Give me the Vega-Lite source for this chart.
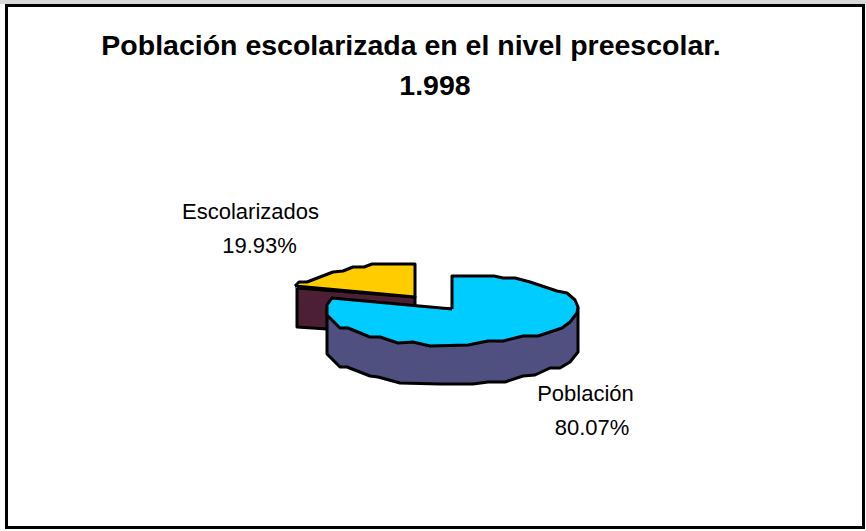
{"$schema":"https://vega.github.io/schema/vega-lite/v6.json","width":866,"height":531,"padding":0,"autosize":{"type":"fit","contains":"padding"},"background":"white","view":{"stroke":null},
"datasets":{
"franja":[{"x":0,"x2":866,"y":0,"y2":4}],
"marco":[{"x":6.5,"x2":863.5,"y":5.5,"y2":527.5}],
"pie":[
{"parte":"lado Escolarizados","i":0,"x":297,"y":288},{"parte":"lado Escolarizados","i":1,"x":415,"y":297},{"parte":"lado Escolarizados","i":2,"x":415,"y":305},{"parte":"lado Escolarizados","i":3,"x":380,"y":312},{"parte":"lado Escolarizados","i":4,"x":330,"y":322},{"parte":"lado Escolarizados","i":5,"x":327,"y":329},{"parte":"lado Escolarizados","i":6,"x":297,"y":327},{"parte":"lado Escolarizados","i":7,"x":297,"y":288},
{"parte":"Escolarizados","i":0,"x":295,"y":286},{"parte":"Escolarizados","i":1,"x":299,"y":282},{"parte":"Escolarizados","i":2,"x":307,"y":282},{"parte":"Escolarizados","i":3,"x":320,"y":277},{"parte":"Escolarizados","i":4,"x":333,"y":272},{"parte":"Escolarizados","i":5,"x":343,"y":271},{"parte":"Escolarizados","i":6,"x":353,"y":267},{"parte":"Escolarizados","i":7,"x":364,"y":267},{"parte":"Escolarizados","i":8,"x":372,"y":264},{"parte":"Escolarizados","i":9,"x":415,"y":264},{"parte":"Escolarizados","i":10,"x":415,"y":297},{"parte":"Escolarizados","i":11,"x":295,"y":286},
{"parte":"lado Población","i":0,"x":327,"y":310},{"parte":"lado Población","i":1,"x":327,"y":354},{"parte":"lado Población","i":2,"x":340,"y":367},{"parte":"lado Población","i":3,"x":347,"y":367},{"parte":"lado Población","i":4,"x":370,"y":376},{"parte":"lado Población","i":5,"x":378,"y":377},{"parte":"lado Población","i":6,"x":400,"y":383},{"parte":"lado Población","i":7,"x":440,"y":384},{"parte":"lado Población","i":8,"x":473,"y":384},{"parte":"lado Población","i":9,"x":488,"y":382},{"parte":"lado Población","i":10,"x":505,"y":382},{"parte":"lado Población","i":11,"x":523,"y":376},{"parte":"lado Población","i":12,"x":535,"y":375},{"parte":"lado Población","i":13,"x":550,"y":368},{"parte":"lado Población","i":14,"x":560,"y":368},{"parte":"lado Población","i":15,"x":570,"y":362},{"parte":"lado Población","i":16,"x":578,"y":352},{"parte":"lado Población","i":17,"x":578,"y":308},{"parte":"lado Población","i":18,"x":327,"y":310},
{"parte":"Población","i":0,"x":452,"y":309},{"parte":"Población","i":1,"x":452,"y":276},{"parte":"Población","i":2,"x":494,"y":276},{"parte":"Población","i":3,"x":503,"y":278},{"parte":"Población","i":4,"x":515,"y":278},{"parte":"Población","i":5,"x":530,"y":282},{"parte":"Población","i":6,"x":542,"y":286},{"parte":"Población","i":7,"x":557,"y":291},{"parte":"Población","i":8,"x":567,"y":293},{"parte":"Población","i":9,"x":575,"y":300},{"parte":"Población","i":10,"x":578,"y":307},{"parte":"Población","i":11,"x":577,"y":313},{"parte":"Población","i":12,"x":570,"y":322},{"parte":"Población","i":13,"x":562,"y":328},{"parte":"Población","i":14,"x":550,"y":332},{"parte":"Población","i":15,"x":538,"y":336},{"parte":"Población","i":16,"x":523,"y":336},{"parte":"Población","i":17,"x":503,"y":341},{"parte":"Población","i":18,"x":488,"y":341},{"parte":"Población","i":19,"x":468,"y":345},{"parte":"Población","i":20,"x":430,"y":346},{"parte":"Población","i":21,"x":413,"y":342},{"parte":"Población","i":22,"x":398,"y":343},{"parte":"Población","i":23,"x":380,"y":337},{"parte":"Población","i":24,"x":370,"y":337},{"parte":"Población","i":25,"x":348,"y":328},{"parte":"Población","i":26,"x":340,"y":328},{"parte":"Población","i":27,"x":327,"y":315},{"parte":"Población","i":28,"x":327,"y":305},{"parte":"Población","i":29,"x":332,"y":298},{"parte":"Población","i":30,"x":452,"y":309}
],
"rotulos":[
{"t":"Escolarizados","x":250.5,"y":212},{"t":"19.93%","x":259.5,"y":246},{"t":"Población","x":585.5,"y":394},{"t":"80.07%","x":592,"y":428}
],
"titulo":[{"t":"Población escolarizada en el nivel preescolar.","x":411,"y":46},{"t":"1.998","x":435,"y":86}]
},
"encoding":{
"x":{"field":"x","type":"quantitative","scale":{"domain":[0,866]},"axis":null},
"y":{"field":"y","type":"quantitative","scale":{"domain":[531,0]},"axis":null}
},
"layer":[
{"data":{"name":"franja"},"mark":{"type":"rect","fill":"#d8d8d8"},"encoding":{"x2":{"field":"x2"},"y2":{"field":"y2"}}},
{"data":{"name":"marco"},"mark":{"type":"rect","fill":"white","stroke":"black","strokeWidth":3},"encoding":{"x2":{"field":"x2"},"y2":{"field":"y2"}}},
{"data":{"name":"pie"},"transform":[{"filter":"datum.parte==='lado Escolarizados'"}],"mark":{"type":"line","fill":"#4d1f35","stroke":"black","strokeWidth":3,"strokeJoin":"round"},"encoding":{"order":{"field":"i","type":"quantitative"}}},
{"data":{"name":"pie"},"transform":[{"filter":"datum.parte==='Escolarizados'"}],"mark":{"type":"line","fill":"#ffcc00","stroke":"black","strokeWidth":3,"strokeJoin":"round"},"encoding":{"order":{"field":"i","type":"quantitative"}}},
{"data":{"name":"pie"},"transform":[{"filter":"datum.parte==='lado Población'"}],"mark":{"type":"line","fill":"#4f4f80","stroke":"black","strokeWidth":3,"strokeJoin":"round"},"encoding":{"order":{"field":"i","type":"quantitative"}}},
{"data":{"name":"pie"},"transform":[{"filter":"datum.parte==='Población'"}],"mark":{"type":"line","fill":"#00ccff","stroke":"black","strokeWidth":3,"strokeJoin":"round"},"encoding":{"order":{"field":"i","type":"quantitative"}}},
{"data":{"name":"rotulos"},"mark":{"type":"text","font":"Liberation Sans","fontSize":22,"color":"black","align":"center","baseline":"middle"},"encoding":{"text":{"field":"t"}}},
{"data":{"name":"titulo"},"mark":{"type":"text","font":"Liberation Sans","fontSize":28.5,"fontWeight":"bold","color":"black","align":"center","baseline":"middle"},"encoding":{"text":{"field":"t"}}}
]}
